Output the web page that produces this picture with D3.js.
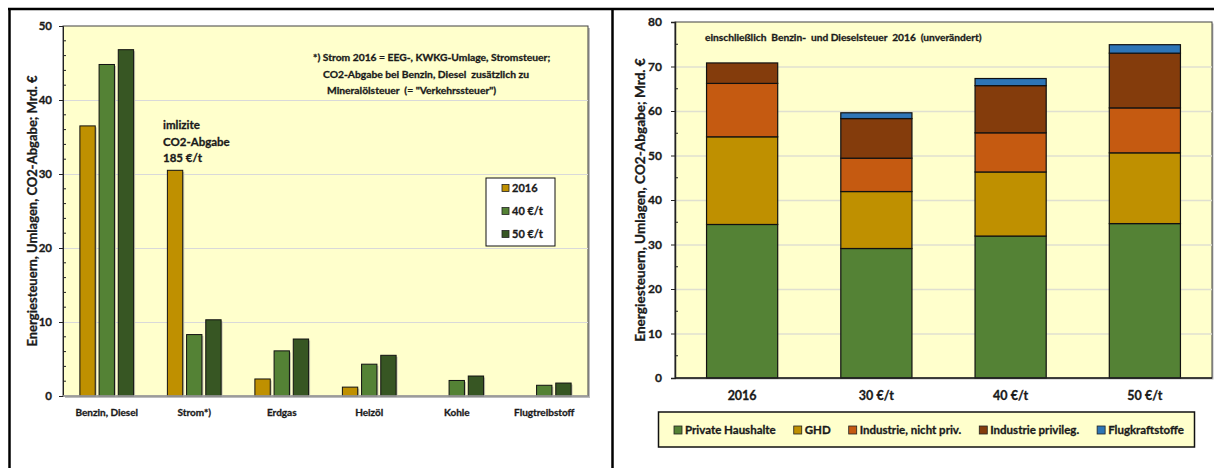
<!DOCTYPE html>
<html>
<head>
<meta charset="utf-8">
<script src="https://cdn.jsdelivr.net/npm/d3@7"></script>
<style>
  html, body { margin: 0; padding: 0; background: #ffffff; }
  svg { display: block; }
  text { font-family: Lato, "Open Sans", sans-serif; font-weight: bold; fill: #1a1a1a;
         stroke: #1a1a1a; stroke-width: 0.3px; paint-order: stroke; }
</style>
</head>
<body>
<svg id="chart" width="1214" height="468"></svg>
<script>
// ---------- Left chart data ----------
const leftCategories = ["Benzin, Diesel", "Strom*)", "Erdgas", "Heizöl", "Kohle", "Flugtreibstoff"];
const leftSeries = ["2016", "40 €/t", "50 €/t"];
const values2016 = [36.5, 30.5, 2.3, 1.2, 0, 0];
const values40 = [44.8, 8.3, 6.1, 4.3, 2.1, 1.45];
const values50 = [46.8, 10.3, 7.7, 5.5, 2.7, 1.75];
const leftYTicks = [0, 10, 20, 30, 40, 50];
const leftNoteLines = [
  "*) Strom 2016 = EEG-, KWKG-Umlage, Stromsteuer;",
  "CO2-Abgabe bei Benzin, Diesel  zusätzlich zu",
  "Mineralölsteuer  (= \"Verkehrssteuer\")"
];
const leftAnnotLines = ["imlizite", "CO2-Abgabe", "185 €/t"];

// ---------- Right chart data ----------
const rightCategories = ["2016", "30 €/t", "40 €/t", "50 €/t"];
const rightSeries = ["Private Haushalte", "GHD", "Industrie, nicht priv.", "Industrie privileg.", "Flugkraftstoffe"];
const privateHH = [34.5, 29.1, 31.9, 34.7];
const ghd = [19.7, 12.8, 14.4, 15.9];
const industrieNP = [12.0, 7.5, 8.8, 10.1];
const industrieP = [4.6, 8.9, 10.6, 12.3];
const flug = [0, 1.3, 1.6, 1.9];
const rightYTicks = [0, 10, 20, 30, 40, 50, 60, 70, 80];
const rightNote = "einschließlich  Benzin-  und Dieselsteuer  2016  (unverändert)";
const yTitle = "Energiesteuern, Umlagen, CO2-Abgabe; Mrd. €";

const leftColors = ["#BF9000", "#548235", "#375623"];
const rightColors = ["#548235", "#BF9000", "#C55A11", "#843C0C", "#2E75B6"];
const plotBg = "#FFFFCC";

const svg = d3.select("#chart");

// ---------- Panel frame ----------
svg.append("line").attr("x1", 8).attr("x2", 1214).attr("y1", 9).attr("y2", 9)
  .attr("stroke", "#000").attr("stroke-width", 2.5);
svg.append("line").attr("x1", 9.5).attr("x2", 9.5).attr("y1", 8).attr("y2", 468)
  .attr("stroke", "#000").attr("stroke-width", 2.5);
svg.append("line").attr("x1", 612.5).attr("x2", 612.5).attr("y1", 8).attr("y2", 468)
  .attr("stroke", "#000").attr("stroke-width", 2.5);

// =============== LEFT CHART ===============
const L = { x0: 63, x1: 588, y0: 26, y1: 396 };
const gL = svg.append("g");
const xL = d3.scaleBand().domain(leftCategories).range([L.x0, L.x1]).paddingInner(0).paddingOuter(0);
const xL1 = d3.scaleBand().domain(leftSeries).range([0, xL.bandwidth()]).paddingInner(0.2).paddingOuter(0.88);
const yL = d3.scaleLinear().domain([0, 50]).range([L.y1, L.y0]);

gL.append("rect").attr("x", L.x0 + 2).attr("y", L.y0 + 2).attr("width", L.x1 - L.x0).attr("height", L.y1 - L.y0)
  .attr("fill", "#bdbdbd");
gL.append("rect").attr("x", L.x0).attr("y", L.y0).attr("width", L.x1 - L.x0).attr("height", L.y1 - L.y0)
  .attr("fill", plotBg).attr("stroke", "#404040").attr("stroke-width", 1);

gL.append("g").selectAll("line").data(leftYTicks.filter(d => d > 0 && d < 50)).join("line")
  .attr("x1", L.x0).attr("x2", L.x1).attr("y1", d => yL(d) + 0.5).attr("y2", d => yL(d) + 0.5)
  .attr("stroke", "#d9d9d9").attr("stroke-width", 1.2);

const leftData = leftCategories.map((c, i) => ({ cat: c, vals: [values2016[i], values40[i], values50[i]] }));
const groups = gL.append("g").selectAll("g").data(leftData).join("g")
  .attr("transform", d => `translate(${xL(d.cat)},0)`);
groups.selectAll("rect.shadow").data(d => d.vals.map((v, j) => ({ s: leftSeries[j], v, j })).filter(e => e.v > 0))
  .join("rect").attr("class", "shadow")
  .attr("x", e => xL1(e.s) + 1.5).attr("y", e => yL(e.v) + 1.5)
  .attr("width", xL1.bandwidth()).attr("height", e => yL(0) - yL(e.v) - 1.5)
  .attr("fill", "#c8c8b0");
groups.selectAll("rect.bar").data(d => d.vals.map((v, j) => ({ s: leftSeries[j], v, j })).filter(e => e.v > 0))
  .join("rect").attr("class", "bar")
  .attr("x", e => xL1(e.s)).attr("y", e => yL(e.v))
  .attr("width", xL1.bandwidth()).attr("height", e => yL(0) - yL(e.v))
  .attr("fill", e => leftColors[e.j]).attr("stroke", "#111").attr("stroke-width", 1);

const yAxisL = d3.axisLeft(yL).tickValues(leftYTicks).tickSize(4).tickPadding(7).tickFormat(d3.format("d"));
const ayL = gL.append("g").attr("transform", `translate(${L.x0},0)`).call(yAxisL);
ayL.select(".domain").attr("stroke", "#222");
ayL.selectAll(".tick line").attr("stroke", "#222");
ayL.selectAll("text").style("font-size", "11.5px").attr("fill", "#1a1a1a");
gL.append("g").selectAll("line").data(d3.range(0, 51, 2).filter(d => d % 10 !== 0)).join("line")
  .attr("x1", L.x0).attr("x2", L.x0 + 3).attr("y1", d => yL(d)).attr("y2", d => yL(d))
  .attr("stroke", "#222");
gL.append("line").attr("x1", L.x0).attr("x2", L.x1).attr("y1", yL(0)).attr("y2", yL(0))
  .attr("stroke", "#a6a6a6").attr("stroke-width", 1.5);

const xAxisL = d3.axisBottom(xL).tickSize(0).tickPadding(13);
const axL = gL.append("g").attr("transform", `translate(0,${L.y1})`).call(xAxisL);
axL.select(".domain").remove();
axL.selectAll("text").style("font-size", "10px").attr("fill", "#1a1a1a");

gL.append("text").attr("transform", `translate(37,${(L.y0 + L.y1) / 2}) rotate(-90)`)
  .attr("text-anchor", "middle").style("font-size", "13px").text(yTitle);

gL.append("g").selectAll("text").data(leftAnnotLines).join("text")
  .attr("x", 163).attr("y", (d, i) => 129 + i * 16.5).style("font-size", "11.5px").text(d => d);

const noteX = [313, 323, 327];
gL.append("g").selectAll("text").data(leftNoteLines).join("text")
  .attr("x", (d, i) => noteX[i]).attr("y", (d, i) => 61 + i * 16.5).style("font-size", "10.3px")
  .attr("xml:space", "preserve").style("white-space", "pre").text(d => d);

const legL = gL.append("g");
legL.append("rect").attr("x", 486).attr("y", 178).attr("width", 69).attr("height", 68)
  .attr("fill", "#fff").attr("stroke", "#111").attr("stroke-width", 1);
const legLItems = legL.selectAll("g").data(leftSeries).join("g")
  .attr("transform", (d, i) => `translate(502,${188 + i * 23})`);
legLItems.append("rect").attr("x", 0).attr("y", -3.5).attr("width", 7).attr("height", 7)
  .attr("fill", (d, i) => leftColors[i]).attr("stroke", "#222").attr("stroke-width", 0.8);
legLItems.append("text").attr("x", 10).attr("y", 4).style("font-size", "11px").text(d => d);

// =============== RIGHT CHART ===============
const R = { x0: 675, x1: 1212, y0: 22, y1: 378 };
const gR = svg.append("g");
const xR = d3.scaleBand().domain(rightCategories).range([R.x0, R.x1]).paddingInner(0.47).paddingOuter(0.235);
const yR = d3.scaleLinear().domain([0, 80]).range([R.y1, R.y0]);

gR.append("rect").attr("x", R.x0 + 1.5).attr("y", R.y0 + 1.5).attr("width", R.x1 - R.x0).attr("height", R.y1 - R.y0)
  .attr("fill", "#bdbdbd");
gR.append("rect").attr("x", R.x0).attr("y", R.y0).attr("width", R.x1 - R.x0).attr("height", R.y1 - R.y0)
  .attr("fill", plotBg).attr("stroke", "#404040").attr("stroke-width", 1);

gR.append("g").selectAll("line").data(rightYTicks.filter(d => d > 0 && d < 80)).join("line")
  .attr("x1", R.x0).attr("x2", R.x1).attr("y1", d => yR(d) + 0.5).attr("y2", d => yR(d) + 0.5)
  .attr("stroke", "#e0e0d0").attr("stroke-width", 1.5);

const rightTable = rightCategories.map((c, i) => ({
  cat: c,
  "Private Haushalte": privateHH[i],
  "GHD": ghd[i],
  "Industrie, nicht priv.": industrieNP[i],
  "Industrie privileg.": industrieP[i],
  "Flugkraftstoffe": flug[i]
}));
const stack = d3.stack().keys(rightSeries)(rightTable);
stack.forEach((layer, k) => {
  gR.append("g").selectAll("rect").data(layer.filter(d => d[1] - d[0] > 0)).join("rect")
    .attr("x", d => xR(d.data.cat)).attr("y", d => yR(d[1]))
    .attr("width", xR.bandwidth()).attr("height", d => yR(d[0]) - yR(d[1]))
    .attr("fill", rightColors[k]).attr("stroke", "#111").attr("stroke-width", 1.2);
});

const yAxisR = d3.axisLeft(yR).tickValues(rightYTicks).tickSize(4).tickPadding(9).tickFormat(d3.format("d"));
const ayR = gR.append("g").attr("transform", `translate(${R.x0},0)`).call(yAxisR);
ayR.select(".domain").attr("stroke", "#222").attr("stroke-width", 1.5);
ayR.selectAll(".tick line").attr("stroke", "#222");
ayR.selectAll("text").style("font-size", "12px").attr("fill", "#1a1a1a");
gR.append("g").selectAll("line").data(d3.range(5, 80, 10)).join("line")
  .attr("x1", R.x0).attr("x2", R.x0 + 3).attr("y1", d => yR(d)).attr("y2", d => yR(d))
  .attr("stroke", "#222");
gR.append("line").attr("x1", R.x0).attr("x2", R.x1).attr("y1", yR(0)).attr("y2", yR(0))
  .attr("stroke", "#222").attr("stroke-width", 1.5);

const xAxisR = d3.axisBottom(xR).tickSize(0).tickPadding(13);
const axR = gR.append("g").attr("transform", `translate(0,${R.y1})`).call(xAxisR);
axR.select(".domain").remove();
axR.selectAll("text").style("font-size", "12.5px").attr("fill", "#1a1a1a");

gR.append("text").attr("transform", `translate(645,${(R.y0 + R.y1) / 2}) rotate(-90)`)
  .attr("text-anchor", "middle").style("font-size", "13.6px").text(yTitle);

gR.append("text").attr("x", 705).attr("y", 41).style("font-size", "10.2px")
  .attr("xml:space", "preserve").style("white-space", "pre").text(rightNote);

const legR = gR.append("g");
legR.append("rect").attr("x", 658.5).attr("y", 412).attr("width", 536).attr("height", 35)
  .attr("fill", plotBg).attr("stroke", "#111").attr("stroke-width", 1.5);
let lx = 674;
rightSeries.forEach((s, i) => {
  const it = legR.append("g").attr("transform", `translate(${lx},430)`);
  it.append("rect").attr("x", 0).attr("y", -4).attr("width", 8).attr("height", 8)
    .attr("fill", rightColors[i]).attr("stroke", "#222").attr("stroke-width", 0.8);
  const t = it.append("text").attr("x", 11).attr("y", 4).style("font-size", "11.5px").text(s);
  lx += 11 + t.node().getComputedTextLength() + 18;
});
</script>
</body>
</html>
